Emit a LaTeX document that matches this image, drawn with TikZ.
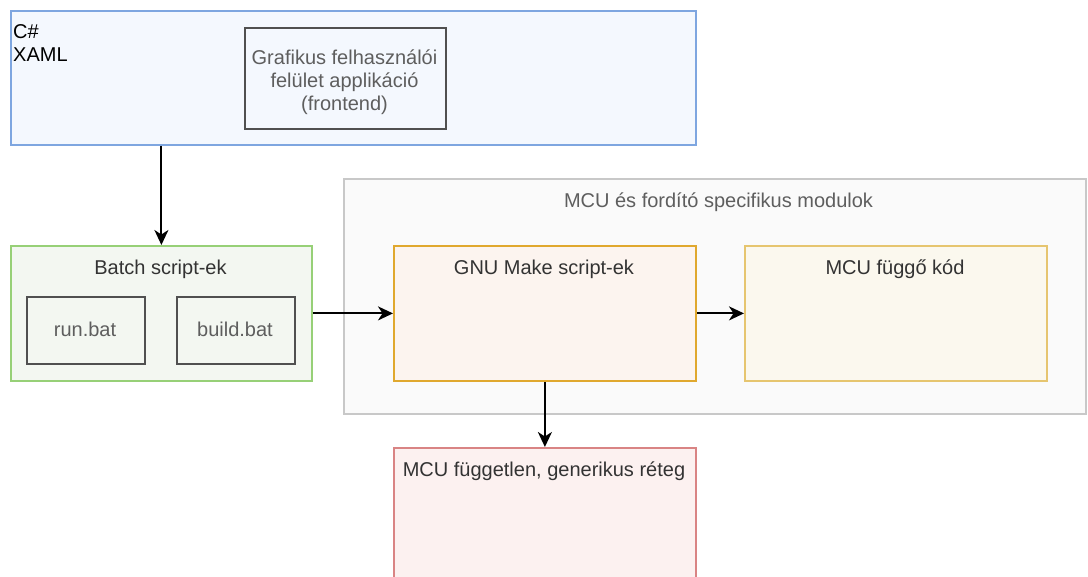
\documentclass[tikz,border=0pt]{standalone}
\usepackage{fontspec}
\setmainfont{Liberation Sans}
\usetikzlibrary{arrows.meta}

\definecolor{blueline}{HTML}{7EA6E0}
\definecolor{bluefill}{HTML}{F4F8FE}
\definecolor{greenline}{HTML}{97D077}
\definecolor{greenfill}{HTML}{F3F7F1}
\definecolor{grayline}{HTML}{C8C8C8}
\definecolor{grayfill}{HTML}{FAFAFA}
\definecolor{orangeline}{HTML}{E0A82E}
\definecolor{orangefill}{HTML}{FCF4EF}
\definecolor{yellowline}{HTML}{E6C56F}
\definecolor{yellowfill}{HTML}{FBF8EE}
\definecolor{redline}{HTML}{D98484}
\definecolor{redfill}{HTML}{FCF1F0}
\definecolor{innerline}{HTML}{505050}
\definecolor{darktext}{HTML}{333333}
\definecolor{softtext}{HTML}{5E5E5E}

\tikzset{
  panel/.style={draw, line width=1.8pt, rectangle, anchor=north west, inner sep=0pt},
  inner/.style={panel, draw=innerline, line width=2pt},
  txt/.style={inner sep=0pt, font=\fontsize{20}{23}\selectfont, text=darktext},
  soft/.style={txt, text=softtext},
  arr/.style={line width=2pt, -{Stealth[length=15pt, width=14pt, inset=4.5pt]}}
}

\begin{document}
\begin{tikzpicture}[x=1pt, y=-1pt]
  \useasboundingbox (0,0) rectangle (1088,577);
  \clip (0,0) rectangle (1088,577);

  % frontend layer
  \node[panel, draw=blueline, fill=bluefill, minimum width=685pt, minimum height=134pt] (front) at (10,10) {};
  \node[txt, text=black, anchor=north west, align=left] (lang) at (13,24) {C\#\\XAML};
  \node[inner, fill=bluefill, minimum width=201pt, minimum height=101pt] (gui) at (244,27) {};
  \node[soft, align=center] (guitxt) at (344.5,82) {Grafikus felhasználói\\felület applikáció\\(frontend)};

  % batch scripts
  \node[panel, draw=greenline, fill=greenfill, minimum width=301pt, minimum height=135pt] (batch) at (10,245) {};
  \node[txt, anchor=base] (batchtxt) at (160.5,275) {Batch script-ek};
  \node[inner, fill=greenfill, minimum width=118pt, minimum height=67pt] (run) at (26,296) {};
  \node[soft, anchor=base] (runtxt) at (85,337) {run.bat};
  \node[inner, fill=greenfill, minimum width=118pt, minimum height=67pt] (build) at (176,296) {};
  \node[soft, anchor=base] (buildtxt) at (235,337) {build.bat};

  % MCU and compiler specific modules
  \node[panel, draw=grayline, fill=grayfill, minimum width=742pt, minimum height=235pt] (spec) at (343,178) {};
  \node[soft, anchor=base] (spectxt) at (718.5,208) {MCU és fordító specifikus modulok};
  \node[panel, draw=orangeline, fill=orangefill, minimum width=302pt, minimum height=135pt] (make) at (393,245) {};
  \node[txt, anchor=base] (maketxt) at (544,275) {GNU Make script-ek};
  \node[panel, draw=yellowline, fill=yellowfill, minimum width=302pt, minimum height=135pt] (mcu) at (744,245) {};
  \node[txt, anchor=base] (mcutxt) at (895,275) {MCU függő kód};

  % generic layer
  \node[panel, draw=redline, fill=redfill, minimum width=302pt, minimum height=160pt] (generic) at (393,447) {};
  \node[txt, anchor=base] (generictxt) at (544,477) {MCU független, generikus réteg};

  % connectors
  \draw[arr] (batch.north |- front.south) -- (batch.north);
  \draw[arr] (batch.east) -- (make.west);
  \draw[arr] (make.east) -- (mcu.west);
  \draw[arr] (make.south) -- (generic.north);
\end{tikzpicture}
\end{document}
